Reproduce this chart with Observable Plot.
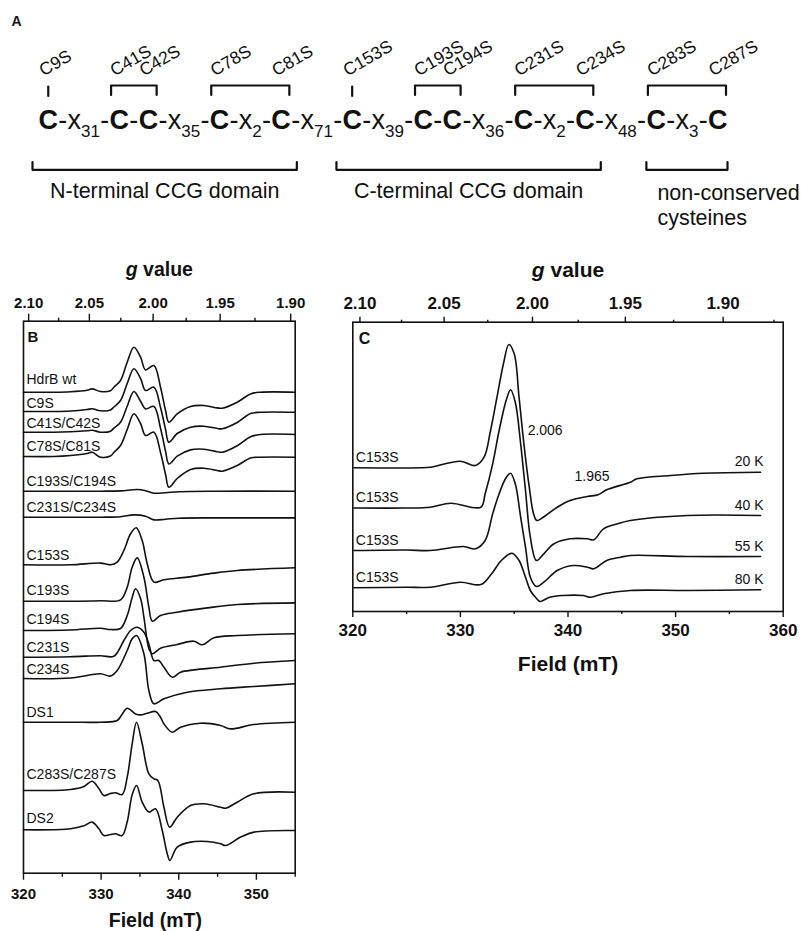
<!DOCTYPE html>
<html>
<head>
<meta charset="utf-8">
<script src="https://cdn.jsdelivr.net/npm/d3@7"></script>
<script src="https://cdn.jsdelivr.net/npm/@observablehq/plot@0.6"></script>
<style>
  html, body { margin: 0; padding: 0; background: #fff; }
  #figure { position: relative; width: 801px; height: 931px; overflow: hidden; background: #fff; }
</style>
</head>
<body>
<div id="figure"></div>
<script>
const ink = "#111";
const font = '"Liberation Sans", Arial, Helvetica, sans-serif';

// ---------- Panel A: cysteine motif of HdrB ----------
const cysteines = [9, 41, 42, 78, 81, 153, 193, 194, 231, 234, 283, 287];
const mutantGroups = [[9], [41, 42], [78, 81], [153], [193, 194], [231, 234], [283, 287]];
const domainNames = ["N-terminal CCG domain", "C-terminal CCG domain", "non-conserved\ncysteines"];
const domainRanges = [[9, 81], [153, 234], [283, 287]];

// ---------- Shared spectrometer settings ----------
const mwFrequency = 9.425; // GHz, X-band
const gConst = 71.4477 * mwFrequency; // g·mT
const fieldAt = g => gConst / g;

// ---------- Panel B: mutant spectra ----------
const fieldTicksB = [320, 330, 340, 350];
const fieldMinorB = [325, 335, 345, 355];
const gTicksB = [2.10, 2.05, 2.00, 1.95, 1.90];
const gMinorB = [2.075, 2.025, 1.975, 1.925];

const samplesB = ["HdrB wt", "C9S", "C41S/C42S", "C78S/C81S", "C193S/C194S", "C231S/C234S",
  "C153S", "C193S", "C194S", "C231S", "C234S", "DS1", "C283S/C287S", "DS2"];
const offsetsB = [481, 461.7, 441, 416.7, 382, 356, 308.4, 272, 242.7, 216, 194.7, 151, 82.7, 43.4];

const hdrbWt = [[320,0],[323.9,0],[326.06,0.5],[328.2,2],[328.85,3.3],[329.92,0.7],[331.2,1.5],[331.64,5],[332.5,11.7],[333.36,30],[334.22,45],[335.08,35],[335.72,22.3],[336.8,26.7],[337.65,5],[338.3,-18.3],[338.73,-30],[339.8,-21.7],[341.52,-14.3],[343.24,-13.3],[344.96,-15.7],[345.6,-16],[347.53,-10],[349.25,-1.7],[350.54,0],[355,0]];
const c9s = [[320,0],[323.9,0],[326.06,0.5],[328.2,2],[328.85,2.7],[329.92,0.7],[331.2,1.5],[331.64,4.5],[332.5,11],[333.36,28],[334.22,42.7],[335.08,33],[335.72,21],[336.8,24.3],[337.65,4],[338.3,-18],[338.73,-30.7],[339.8,-22],[341.52,-15.7],[343.24,-14.7],[344.96,-17],[345.6,-17.3],[347.53,-11],[349.25,-2],[350.54,-0.7],[355,-0.7]];
const c41c42 = [[320,0],[323.9,0],[326.06,0.5],[328.2,1.5],[328.85,2],[329.92,0],[331.2,1],[331.64,4],[332.5,10],[333.36,26],[334.22,40.7],[335.08,31],[335.72,23.3],[336.8,25.7],[337.65,4],[338.3,-19],[338.73,-31.7],[339.8,-24],[341.52,-17.7],[343.24,-17],[344.96,-19.5],[345.6,-20],[347.53,-13.5],[349.25,-4.5],[350.54,-2.3],[355,-2.3]];
const c78c81 = [[320,0],[323.9,0],[326.06,1],[328.2,3],[328.85,4.3],[329.92,-0.7],[331.2,0.5],[331.64,4],[332.5,11],[333.36,27],[334.22,42.7],[335.08,33],[335.72,21],[336.8,24.3],[337.65,4],[338.3,-18],[338.73,-30.7],[339.8,-22],[341.52,-13],[343.24,-11.7],[344.96,-14],[345.6,-14.7],[347.53,-9],[349.25,-1.5],[350.54,-0.7],[355,-0.7]];
const c193c194 = [[320,0],[330,0],[332.5,0.3],[334.65,1.7],[335.72,0.5],[336.8,-2],[338.3,-1.5],[340,-0.5],[345,0],[355,0]];
const c231c234 = [[320,0],[330,0],[332.5,0.5],[334.22,2.3],[335.72,1],[336.8,-2.7],[338.3,-2],[340,-1],[345,-0.7],[355,-0.7]];
const c153 = [[320,0],[326.06,0],[329.92,1.7],[331.2,0],[332.07,2.7],[332.93,14.3],[333.79,31],[334.52,37],[335.29,24.3],[335.94,1],[336.8,-17.3],[338.09,-15],[341.09,-12.3],[344.53,-8.3],[347.53,-5.7],[355,-3]];
const c193 = [[320,0],[326.06,0],[329.92,0.5],[332.5,1.3],[333.36,14],[334.0,34],[334.65,43.3],[335.51,24],[336.15,-6],[336.59,-20],[337.65,-14.3],[339.8,-11],[343.67,-6.7],[347.53,-3.3],[355,-1.7]];
const c194 = [[320,0],[326.06,0.5],[329.92,2.3],[331.2,1],[332.5,2],[333.36,15],[334.0,33],[334.43,41.7],[335.08,32],[335.51,13.3],[336.15,-18],[336.59,-23.3],[337.65,-17.7],[339.8,-14],[341.95,-10.7],[343.02,-14.3],[344.53,-7.3],[347.53,-5],[355,-3.3]];
const c231 = [[320,0],[326.06,0.5],[329.92,1.5],[331.64,1],[332.93,16.7],[333.79,26.7],[334.65,30],[335.51,25],[336.15,13.3],[336.8,-3.3],[337.44,-3.3],[338.09,-10],[339.16,-20],[340.24,-15],[341.95,-12.7],[345.39,-10],[349.68,-6],[355,-3.3]];
const c234 = [[320,0],[326.06,0.5],[329.92,4.7],[331.2,2.5],[332.07,8],[333.36,28],[334.0,39.7],[334.56,43],[335.51,24.7],[336.15,-12],[336.8,-25.3],[338.09,-20.3],[341.09,-13.7],[345.39,-10.3],[349.68,-8],[355,-5.3]];
const ds1 = [[320,0],[326.06,0],[329.92,0],[332.07,1.7],[332.71,8],[333.36,14],[334.43,8.3],[335.08,7.3],[335.94,9],[337.01,10.7],[337.65,5],[338.09,-1.7],[339.16,-10],[340.24,-5],[342.81,-1],[345.39,-3.3],[346.68,-6.7],[349.68,-2.3],[355,0]];
const c283c287 = [[320,0],[326.06,1],[327.78,4],[328.85,9.3],[329.71,2],[330.35,-5],[331.2,-3],[331.85,-2.3],[332.71,-4],[333.36,13.3],[334.0,46.7],[334.56,68.3],[335.29,46.7],[336.15,16.7],[336.8,11.7],[337.31,10],[338.09,-16.7],[338.82,-36.7],[339.8,-26.7],[341.52,-15],[343.24,-13.3],[345.39,-16.7],[346.03,-17.7],[347.53,-11.7],[349.68,-3.3],[355,-1.7]];
const ds2 = [[320,0],[326.06,1],[327.78,4],[328.85,7.7],[329.71,1],[330.35,-5.7],[331.2,-4.7],[331.85,-4],[332.71,-5.7],[333.36,8],[334.0,35],[334.56,44.3],[335.29,27.7],[336.15,17.7],[337.01,21],[337.87,-0.7],[338.52,-24],[338.86,-30.7],[339.8,-17.3],[341.52,-12.3],[343.67,-11.7],[345.39,-14],[346.03,-15.7],[347.96,-7.3],[349.68,-2.3],[355,-0.7]];
const spectraB = [hdrbWt, c9s, c41c42, c78c81, c193c194, c231c234, c153, c193, c194, c231, c234, ds1, c283c287, ds2];

// ---------- Panel C: C153S temperature series ----------
const fieldTicksC = [320, 330, 340, 350, 360];
const fieldMinorC = [325, 335, 345, 355];
const gTicksC = [2.10, 2.05, 2.00, 1.95, 1.90];
const gMinorC = [2.075, 2.025, 1.975, 1.925, 1.875];
const samplesC = ["C153S", "C153S", "C153S", "C153S"];
const temperatures = ["20 K", "40 K", "55 K", "80 K"];
const offsetsC = [143.7, 103.5, 61, 23.7];
const t20 = [[320.1,0],[326.3,0],[327.2,0.6],[330.0,6.6],[331.4,2.3],[332.2,10.6],[332.8,37.3],[333.4,70.6],[334.0,104],[334.5,123.3],[335.0,114],[335.45,70.6],[335.9,24],[336.4,-19.4],[336.8,-46],[337.1,-52.7],[337.7,-49.4],[339.0,-39.4],[340.2,-32.7],[341.8,-28.7],[342.8,-27],[343.6,-22],[345.8,-14.4],[346.4,-11],[349.5,-7.7],[352.6,-5.4],[357.9,-4.4]];
const t40 = [[320.1,0],[325,0],[327.2,0.8],[329.1,4.8],[331.9,0.8],[332.3,14.2],[333.0,44.2],[333.6,77.5],[334.25,107.5],[334.66,118.2],[335.1,105.8],[335.6,64.2],[336.05,17.5],[336.5,-29.2],[337.07,-52.5],[337.75,-45.8],[338.7,-35.8],[340.2,-30.8],[341.8,-30.8],[342.4,-31.8],[343.3,-20.8],[344.6,-15.8],[345.8,-12.5],[351.1,-7.5],[357.9,-7.5]];
const t55 = [[320.1,0],[325,0.5],[327.2,0],[330.3,4],[331.4,1.7],[332.3,10],[333.0,36.7],[333.6,56.7],[334.2,72],[334.66,77.3],[335.1,66.7],[335.6,33.3],[336.05,3.3],[336.5,-26.7],[337.07,-36],[337.75,-31.7],[339.0,-20],[340.5,-15],[341.8,-16.7],[342.4,-18.3],[343.6,-10],[344.9,-6.7],[345.8,-5],[351.1,-6],[357.9,-6]];
const t80 = [[320.1,0],[325,0.5],[327.2,0.6],[330.0,5.6],[331.9,3.3],[332.9,14],[333.8,27.3],[334.8,34.6],[335.45,27.3],[336.05,10.6],[336.5,-2.7],[337.1,-11],[337.4,-13.7],[338.3,-9.4],[339.5,-7.7],[341.4,-7.7],[342.1,-9.4],[343.3,-6],[345.8,-2.7],[351.1,-2.7],[357.9,-2]];
const spectraC = [t20, t40, t55, t80];
const gNotes = [2.006, 1.965];

// ---------- helpers ----------
const figure = document.getElementById("figure");
function place(svg, left, top) {
  svg.style.position = "absolute";
  svg.style.left = left + "px";
  svg.style.top = top + "px";
  figure.append(svg);
}
function italicG(svg) {
  svg.querySelectorAll("text").forEach(t => {
    if (t.textContent === "g value") {
      t.textContent = "";
      const g = document.createElementNS("http://www.w3.org/2000/svg", "tspan");
      g.setAttribute("font-style", "italic");
      g.textContent = "g";
      t.append(g, " value");
    }
  });
}

// ---------- Panel A layout ----------
const seq = {left: 38, right: 727, baseline: 128.3, subDrop: 8.4, size: 27, subSize: 17};
const ctx = document.createElement("canvas").getContext("2d");
const measure = (s, size, weight = "normal") => { ctx.font = `${weight} ${size}px ${font}`; return ctx.measureText(s).width; };

const tokens = [];
cysteines.forEach((r, i) => {
  if (i > 0) {
    const spacer = r - cysteines[i - 1] - 1;
    tokens.push({kind: "dash", text: "-"});
    if (spacer > 0) {
      tokens.push({kind: "x", text: "x"});
      tokens.push({kind: "sub", text: String(spacer)});
      tokens.push({kind: "dash", text: "-"});
    }
  }
  tokens.push({kind: "cys", text: "C", residue: r});
});
tokens.forEach(t => {
  t.w = t.kind === "cys" ? measure("C", seq.size, "bold")
      : t.kind === "sub" ? measure(t.text, seq.subSize)
      : measure(t.text, seq.size);
});
// spread any leftover width evenly between glyph groups (subscripts stay attached to their x)
const joins = tokens.slice(1).map(t => (t.kind === "sub" ? 0 : 1));
const tracking = (seq.right - seq.left - d3.sum(tokens, t => t.w)) / d3.sum(joins);
let cursor = seq.left;
tokens.forEach((t, i) => { if (i > 0) cursor += joins[i - 1] * tracking; t.x = cursor; cursor += t.w; });
const cys = new Map(tokens.filter(t => t.kind === "cys").map(t => [t.residue, t]));

const upperBrackets = mutantGroups.flatMap((g, i) => {
  if (g.length === 1) {
    const c = cys.get(g[0]);
    const xm = c.x + c.w / 2;
    return [{i, x: xm, y: 95.5}, {i, x: xm, y: 86}];
  }
  const a = cys.get(g[0]), b = cys.get(g[g.length - 1]);
  const xl = a.x + 1.5, xr = b.x + b.w - 1.5;
  return [{i, x: xl, y: 94.5}, {i, x: xl, y: 85}, {i, x: xr, y: 85}, {i, x: xr, y: 94.5}];
});
// the two CCG brackets reach past their flanking cysteines; the last one hugs them
const bracketPad = [6, 6, 0];
const domainBoxes = domainRanges.map(([r0, r1], i) => {
  const a = cys.get(r0), b = cys.get(r1);
  return {i, name: domainNames[i], x1: a.x - bracketPad[i], x2: b.x + b.w + bracketPad[i]};
});
const lowerBrackets = domainBoxes.flatMap(d => [
  {i: d.i, x: d.x1, y: 161.7}, {i: d.i, x: d.x1, y: 169.3}, {i: d.i, x: d.x2, y: 169.3}, {i: d.i, x: d.x2, y: 161.7}
]);

const domainFont = 21.5;
const panelA = Plot.plot({
  width: 801, height: 235, margin: 0,
  x: {type: "identity", axis: null},
  y: {type: "identity", axis: null},
  style: {fontFamily: font, color: ink, background: "transparent"},
  marks: [
    Plot.text(["A"], {x: 11, y: 25.5, text: d => d, textAnchor: "start", lineAnchor: "bottom", fontWeight: "bold", fontSize: 14}),
    Plot.text(tokens.filter(t => t.kind === "cys"), {x: "x", y: seq.baseline, text: "text", textAnchor: "start", lineAnchor: "bottom", fontWeight: "bold", fontSize: seq.size}),
    Plot.text(tokens.filter(t => t.kind === "dash" || t.kind === "x"), {x: "x", y: seq.baseline, text: "text", textAnchor: "start", lineAnchor: "bottom", fontSize: seq.size}),
    Plot.text(tokens.filter(t => t.kind === "sub"), {x: "x", y: seq.baseline + seq.subDrop, text: "text", textAnchor: "start", lineAnchor: "bottom", fontSize: seq.subSize}),
    Plot.text(cysteines, {x: r => cys.get(r).x + 5, y: 76, text: r => `C${r}S`, rotate: -30, textAnchor: "start", lineAnchor: "bottom", fontSize: 17.5}),
    Plot.line(upperBrackets, {x: "x", y: "y", z: "i", stroke: ink, strokeWidth: 2.2}),
    Plot.line(lowerBrackets, {x: "x", y: "y", z: "i", stroke: ink, strokeWidth: 2.2}),
    Plot.text(domainBoxes.filter(d => !d.name.includes("\n")), {x: d => (d.x1 + d.x2) / 2, y: 197, text: "name", textAnchor: "middle", lineAnchor: "bottom", fontSize: domainFont}),
    Plot.text(domainBoxes.filter(d => d.name.includes("\n")), {x: d => d.x1 + 11, y: 197 - 0.71 * domainFont, text: "name", textAnchor: "start", lineAnchor: "top", lineHeight: 25 / domainFont, fontSize: domainFont})
  ]
});
place(panelA, 0, 0);

// ---------- Spectrum panels ----------
function spectrumPanel(cfg) {
  const rows = cfg.spectra.flatMap((pts, i) => pts.map(([field, d]) => ({trace: i, field, signal: cfg.offsets[i] + d})));
  const tickStyle = {stroke: ink, strokeWidth: 1.4, label: null};
  const marks = [
    Plot.frame({stroke: ink, strokeWidth: 1.6}),
    Plot.axisX({anchor: "bottom", ticks: cfg.fieldTicks, tickSize: cfg.tickMajor, tickPadding: cfg.padBottom,
      tickFormat: d => String(d), fontSize: cfg.tickFont, fontWeight: "bold", ...tickStyle}),
    Plot.axisX({anchor: "bottom", ticks: cfg.fieldMinor, tickSize: cfg.tickMinor, tickFormat: () => "", ...tickStyle}),
    Plot.axisX({anchor: "top", ticks: cfg.gTicks.map(fieldAt), tickSize: cfg.tickMajorTop, tickPadding: cfg.padTop,
      tickFormat: B => (gConst / B).toFixed(2), fontSize: cfg.tickFont, fontWeight: "bold", ...tickStyle}),
    Plot.axisX({anchor: "top", ticks: cfg.gMinor.map(fieldAt), tickSize: cfg.tickMinorTop, tickFormat: () => "", ...tickStyle}),
    Plot.line(rows, {x: "field", y: "signal", z: "trace", curve: "catmull-rom", stroke: ink, strokeWidth: 1.6}),
    Plot.text(cfg.names.map((n, i) => ({n, y: cfg.offsets[i] + cfg.labelLift[i]})), {frameAnchor: "left", y: "y", text: "n", dx: 3,
      textAnchor: "start", lineAnchor: "bottom", fontSize: cfg.labelFont}),
    Plot.text(["g value"], {frameAnchor: "top", dy: cfg.gTitleDy, text: d => d, lineAnchor: "bottom", fontWeight: "bold", fontSize: cfg.titleFont}),
    Plot.text(["Field (mT)"], {frameAnchor: "bottom", dx: cfg.fieldTitleDx, dy: cfg.fieldTitleDy, text: d => d, lineAnchor: "bottom", fontWeight: "bold", fontSize: cfg.titleFont}),
    Plot.text([cfg.panel], {frameAnchor: "top-left", dx: cfg.panelDx, dy: cfg.panelDy, text: d => d, textAnchor: "start", lineAnchor: "bottom", fontWeight: "bold", fontSize: cfg.panelFont}),
    ...(cfg.extra ? cfg.extra() : [])
  ];
  const svg = Plot.plot({
    width: cfg.width, height: cfg.height,
    marginLeft: cfg.margin[3], marginRight: cfg.margin[1], marginTop: cfg.margin[0], marginBottom: cfg.margin[2],
    x: {domain: cfg.fieldDomain, label: null},
    y: {domain: cfg.yDomain, axis: null},
    style: {fontFamily: font, color: ink, background: "transparent", overflow: "visible"},
    marks
  });
  italicG(svg);
  return svg;
}

const panelB = spectrumPanel({
  panel: "B", width: 320, height: 696, margin: [85.7, 25.3, 58.3, 23],
  fieldDomain: [320, 355], yDomain: [0, 552],
  fieldTicks: fieldTicksB, fieldMinor: fieldMinorB, gTicks: gTicksB, gMinor: gMinorB,
  tickMajor: 7, tickMinor: 4, tickMajorTop: 8, tickMinorTop: 4, padBottom: 8, padTop: 5,
  tickFont: 15, titleFont: 19.5, labelFont: 14, panelFont: 15,
  gTitleDy: -45, fieldTitleDx: -4, fieldTitleDy: 53.3, panelDx: 4, panelDy: 20.5,
  names: samplesB, offsets: offsetsB, spectra: spectraB,
  labelLift: [8.7, 3.7, 4.4, 6, 5.7, 5, 5, 6.7, 6.7, 5, 4.7, 5, 11.7, 6.6]
});
place(panelB, 0, 235);

const panelC = spectrumPanel({
  panel: "C", width: 481, height: 456, margin: [86.7, 18.3, 80, 32.3],
  fieldDomain: [320, 360], yDomain: [0, 289.3],
  fieldTicks: fieldTicksC, fieldMinor: fieldMinorC, gTicks: gTicksC, gMinor: gMinorC,
  tickMajor: 6, tickMinor: 3, tickMajorTop: 6, tickMinorTop: 3, padBottom: 6, padTop: 7,
  tickFont: 17, titleFont: 21, labelFont: 14, panelFont: 16,
  gTitleDy: -45.7, fieldTitleDx: 0, fieldTitleDy: 59, panelDx: 6, panelDy: 21.5,
  names: samplesC, offsets: offsetsC, spectra: spectraC,
  labelLift: [5.6, 5.6, 5.6, 5.6],
  extra: () => {
    const ends = spectraC.map((pts, i) => ({t: temperatures[i], field: pts[pts.length - 1][0], signal: offsetsC[i] + pts[pts.length - 1][1]}));
    return [
      Plot.text(ends, {x: "field", y: "signal", text: "t", dx: 3, dy: -6, textAnchor: "end", lineAnchor: "bottom", fontSize: 14}),
      Plot.text([gNotes[0]], {x: g => fieldAt(g), y: offsetsC[0] + 33.3, text: g => g.toFixed(3), dx: 6, textAnchor: "start", lineAnchor: "bottom", fontSize: 14}),
      Plot.text([gNotes[1]], {x: g => fieldAt(g), y: offsetsC[0] - 13.4, text: g => g.toFixed(3), dx: -5, textAnchor: "middle", lineAnchor: "bottom", fontSize: 14})
    ];
  }
});
place(panelC, 320, 235);
</script>
</body>
</html>
